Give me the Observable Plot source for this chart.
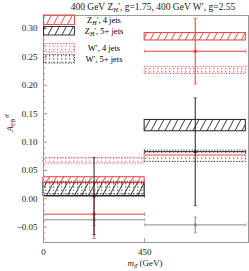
<!DOCTYPE html>
<html><head>
<meta charset="utf-8">
<script src="https://cdn.jsdelivr.net/npm/d3@7"></script>
<script src="https://cdn.jsdelivr.net/npm/@observablehq/plot@0.6"></script>
<style>body{margin:0;background:#fff} svg{font-family:"Liberation Serif",serif}</style>
</head><body><div id="chart"></div>
<script>
// bins (GeV)
const binLo = [0, 450];
const binHi = [450, 900];
// theory bands (box low / high)
const zh4Lo = [0.028, 0.279], zh4Hi = [0.038, 0.292];
const zh5Lo = [0.005, 0.119], zh5Hi = [0.028, 0.139];
const w4Lo  = [0.062, 0.220], w4Hi  = [0.072, 0.232];
const w5Lo  = [0.008, 0.065], w5Hi  = [0.030, 0.085];
// pink line in 2nd bin
const pinkVal = [null, 0.077];
// measured points
const red4 = [-0.027, 0.260], red4Err = [0.043, 0.058];
const blk5 = [0.005, 0.083],  blk5Err = [0.068, 0.095];
const gray = [-0.037, -0.046], grayErr = [0.010, 0.014];
// ticks
const yMajor = [-0.05, 0, 0.05, 0.10, 0.15, 0.20, 0.25, 0.30];
const yMinor = d3.range(-7, 33).map(i => i / 100).filter(v => !yMajor.some(m => Math.abs(m - v) < 1e-9));
const xTicks = [0, 450];

const RED = "#ee3b3b", BLK = "#222", GRY = "#8a8a8a";

const boxRows = (lo, hi) => binLo.map((b, i) => ({lo: binLo[i], hi: binHi[i], y1: lo[i], y2: hi[i]}));
const ptRows = (v, e) => binLo.map((b, i) => ({lo: binLo[i], hi: binHi[i], x: (binLo[i] + binHi[i]) / 2, v: v[i], e: e[i]}));
const pinkRows = binLo.map((b, i) => ({lo: binLo[i], hi: binHi[i], v: pinkVal[i]})).filter(d => d.v != null);

function errMarks(rows, color) {
  return [
    Plot.link(rows, {x1: "lo", x2: "hi", y1: "v", y2: "v", stroke: color, strokeWidth: 1, markerStart: "tick", markerEnd: "tick"}),
    Plot.link(rows, {x1: "x", x2: "x", y1: d => d.v - d.e, y2: d => d.v + d.e, stroke: color, strokeWidth: 1, markerStart: "tick", markerEnd: "tick"}),
    Plot.dot(rows, {x: "x", y: "v", symbol: "square", r: 1.6, fill: color, stroke: null})
  ];
}

const plot = Plot.plot({
  width: 249, height: 271,
  marginLeft: 43, marginRight: 1, marginTop: 15, marginBottom: 29,
  x: {domain: [0, 912]},
  y: {domain: [-0.077, 0.323]},
  style: {fontFamily: "Liberation Serif, serif", fontSize: "9px", color: BLK, background: "white"},
  marks: [
    Plot.rect(boxRows(w5Lo, w5Hi), {x1: "lo", x2: "hi", y1: "y1", y2: "y2", fill: "none", stroke: BLK, strokeWidth: 0.9, strokeDasharray: "1.2,1.6"}),
    Plot.rect(boxRows(w4Lo, w4Hi), {x1: "lo", x2: "hi", y1: "y1", y2: "y2", fill: "none", stroke: RED, strokeWidth: 0.9, strokeDasharray: "1.2,1.6"}),
    Plot.rect(boxRows(zh5Lo, zh5Hi), {x1: "lo", x2: "hi", y1: "y1", y2: "y2", fill: "none", stroke: BLK, strokeWidth: 1}),
    Plot.rect(boxRows(zh4Lo, zh4Hi), {x1: "lo", x2: "hi", y1: "y1", y2: "y2", fill: "none", stroke: RED, strokeWidth: 1}),
    Plot.ruleY(pinkRows, {x1: "lo", x2: "hi", y: "v", stroke: "#f7a0a0", strokeWidth: 2}),
    ...errMarks(ptRows(gray, grayErr), GRY),
    ...errMarks(ptRows(red4, red4Err), RED),
    ...errMarks(ptRows(blk5, blk5Err), BLK),
    Plot.frame({stroke: "#9a9a9a"}),
    Plot.axisY(yMinor, {tickSize: -2, tickFormat: () => "", label: null, stroke: "#9a9a9a"}),
    Plot.axisY(yMajor, {tickSize: -4, tickPadding: 10, tickFormat: d3.format(".2f"), label: null, stroke: "#9a9a9a"}),
    Plot.axisX(xTicks, {tickSize: -4, tickPadding: 10, tickFormat: d => String(d), label: null, stroke: "#9a9a9a"})
  ]
});

document.getElementById("chart").appendChild(plot);
const svg = d3.select(plot);

// smaller error-bar caps
svg.selectAll("marker").attr("markerWidth", 3.6).attr("markerHeight", 3.6);

// patterns
const defs = svg.insert("defs", ":first-child");
function hatch(id, color) {
  const p = defs.append("pattern").attr("id", id).attr("patternUnits", "userSpaceOnUse")
    .attr("width", 7).attr("height", 10).attr("patternTransform", "skewX(-28)");
  p.append("line").attr("x1", 3.5).attr("x2", 3.5).attr("y1", -1).attr("y2", 11)
    .attr("stroke", color).attr("stroke-width", 0.9);
}
function dots(id, color) {
  const p = defs.append("pattern").attr("id", id).attr("patternUnits", "userSpaceOnUse")
    .attr("width", 4).attr("height", 3.2);
  p.append("rect").attr("x", 1).attr("y", 1).attr("width", 1.3).attr("height", 0.9).attr("fill", color);
}
hatch("hatchRed", RED); hatch("hatchBlk", BLK);
dots("dotRed", RED); dots("dotBlk", BLK);
const rectGroups = svg.selectAll('g[aria-label="rect"]').nodes();
const fills = ["url(#dotBlk)", "url(#dotRed)", "url(#hatchBlk)", "url(#hatchRed)"];
rectGroups.forEach((g, i) => { if (fills[i]) d3.select(g).selectAll("rect").attr("fill", fills[i]); });

// title
const title = svg.append("text").attr("x", 153).attr("y", 10).attr("text-anchor", "middle")
  .attr("font-size", 9.5).attr("fill", BLK);
title.append("tspan").text("400 GeV Z");
title.append("tspan").attr("font-size", 6.5).attr("font-style", "italic").attr("dy", 2).text("H");
title.append("tspan").attr("dy", -2).text("′, g=1.75, 400 GeV W′, g=2.55");

// legend
const legend = [
  {y: 15, h: 9.5, fill: "url(#hatchRed)", stroke: RED, dash: null, main: "Z", sub: "H", rest: "′, 4 jets", ty: 22.5},
  {y: 26.5, h: 8.5, fill: "url(#hatchBlk)", stroke: BLK, dash: null, main: "Z", sub: "H", rest: "′, 5+ jets", ty: 33.5},
  {y: 43.5, h: 8.5, fill: "url(#dotRed)", stroke: RED, dash: "1.2,1.6", main: "W′, 4 jets", sub: null, rest: "", ty: 51},
  {y: 54.5, h: 8.5, fill: "url(#dotBlk)", stroke: BLK, dash: "1.2,1.6", main: "W′, 5+ jets", sub: null, rest: "", ty: 62}
];
const lg = svg.append("g");
legend.forEach(e => {
  lg.append("rect").attr("x", 43.5).attr("y", e.y).attr("width", 31).attr("height", e.h)
    .attr("fill", e.fill).attr("stroke", e.stroke).attr("stroke-width", 0.9)
    .attr("stroke-dasharray", e.dash);
  const t = lg.append("text").attr("x", 104).attr("y", e.ty).attr("text-anchor", "middle")
    .attr("font-size", 8.5).attr("fill", "#000");
  t.append("tspan").text(e.main);
  if (e.sub) {
    t.append("tspan").attr("font-size", 6).attr("font-style", "italic").attr("dy", 2).text(e.sub);
    t.append("tspan").attr("dy", -2).text(e.rest);
  }
});

// y label
const yl = svg.append("text").attr("transform", "translate(13,123) rotate(-90)").attr("text-anchor", "middle")
  .attr("font-size", 9).attr("fill", BLK);
yl.append("tspan").attr("font-style", "italic").text("A");
yl.append("tspan").attr("font-size", 6).attr("dy", 2).text("FB");
yl.append("tspan").attr("font-size", 6).attr("font-style", "italic").attr("dy", -6).attr("dx", 1).text("tt̄");

// x label
const xl = svg.append("text").attr("x", 145).attr("y", 266).attr("text-anchor", "middle")
  .attr("font-size", 9).attr("fill", BLK);
xl.append("tspan").attr("font-style", "italic").text("m");
xl.append("tspan").attr("font-size", 6).attr("font-style", "italic").attr("dy", 2).text("tt̄");
xl.append("tspan").attr("dy", -2).text(" (GeV)");
</script>
</body></html>
